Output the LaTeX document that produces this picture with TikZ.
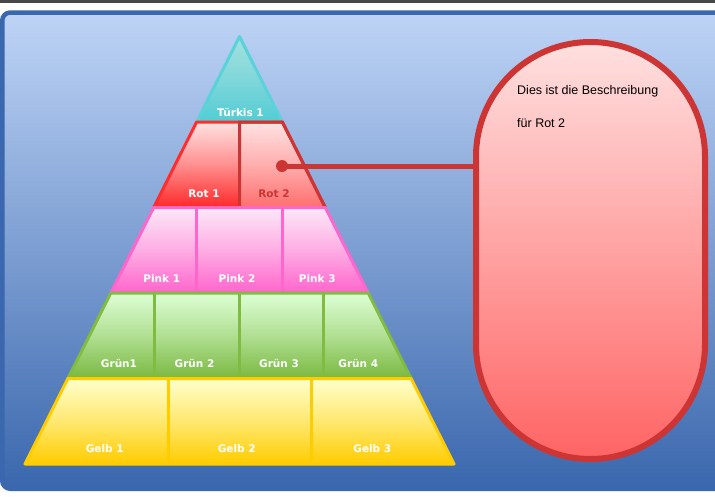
\documentclass[tikz,border=0pt]{standalone}
\usepackage{fontspec}
\setmainfont{Liberation Sans}
\newfontfamily\lblfont{DejaVu Sans}
\usepackage{tikz}
\definecolor{tuerkisA}{RGB}{165,224,222}
\definecolor{tuerkisB}{RGB}{82,204,212}
\definecolor{tuerkisL}{RGB}{90,210,218}
\definecolor{rotA}{RGB}{255,226,226}
\definecolor{rotB}{RGB}{255,40,40}
\definecolor{rotL}{RGB}{255,45,45}
\definecolor{rotzweiB}{RGB}{255,110,110}
\definecolor{rotdark}{RGB}{205,52,52}
\definecolor{pinkA}{RGB}{253,232,248}
\definecolor{pinkB}{RGB}{255,100,204}
\definecolor{pinkL}{RGB}{255,102,204}
\definecolor{gruenA}{RGB}{221,255,213}
\definecolor{gruenB}{RGB}{122,184,64}
\definecolor{gruenL}{RGB}{128,188,64}
\definecolor{gelbA}{RGB}{255,255,204}
\definecolor{gelbB}{RGB}{255,204,0}
\definecolor{gelbL}{RGB}{255,204,0}
\definecolor{panelA}{RGB}{190,212,246}
\definecolor{panelM}{RGB}{150,176,224}
\definecolor{panelB}{RGB}{58,103,173}
\definecolor{descA}{RGB}{255,224,224}
\definecolor{descB}{RGB}{255,100,100}

\begin{document}
\begin{tikzpicture}[x=1pt, y=-1pt,
    lbl/.style={font=\lblfont\bfseries\fontsize{10.5}{12}\selectfont, text=white, anchor=base, inner sep=0pt},
    desctext/.style={font=\fontsize{12.5}{15}\selectfont, anchor=base west, inner sep=0pt}]
    \useasboundingbox (0,0) rectangle (715,496);
    \fill[white] (0,0) rectangle (715,496);
    \fill[black!72] (0,0) rectangle (715,3);

    % Panel
    \draw[panelB, line width=4.5pt, rounded corners=8pt, top color=panelA, middle color=panelM, bottom color=panelB]
        (2.25,12.5) rectangle (730,488.75);

    % Pyramid rows, top to bottom
    \foreach \k/\col/\xs in {1/tuerkis/{}, 2/rot/{239.5}, 3/pink/{196.5,282}, 4/gruen/{154.3,239.3,323.7}, 5/gelb/{168.3,311}} {
        \pgfmathsetmacro\yt{36.5+85.5*(\k-1)}
        \pgfmathsetmacro\yb{36.5+85.5*\k}
        \pgfmathsetmacro\wt{42.9*(\k-1)}
        \pgfmathsetmacro\wb{42.9*\k}
        \shade[top color=\col A, bottom color=\col B, middle color=\col A!55!\col B]
            (239.5-\wt,\yt) -- (239.5+\wt,\yt) -- (239.5+\wb,\yb) -- (239.5-\wb,\yb) -- cycle;
        \ifnum\k=2
            \begin{scope}
                \clip (239.5,\yt) rectangle (400,\yb);
                \shade[top color=rotA, bottom color=rotzweiB, middle color=rotA!55!rotzweiB]
                    (239.5-\wt,\yt) -- (239.5+\wt,\yt) -- (239.5+\wb,\yb) -- (239.5-\wb,\yb) -- cycle;
            \end{scope}
        \fi
        \ifnum\k>1
            \foreach \x in \xs {
                \draw[\col L, line width=3pt] (\x,\yt) -- (\x,\yb);
            }
        \fi
        \draw[\col L, line width=3pt, line join=round]
            (239.5-\wt,\yt) -- (239.5+\wt,\yt) -- (239.5+\wb,\yb) -- (239.5-\wb,\yb) -- cycle;
        \ifnum\k=2
            \draw[rotdark, line width=3pt]
                (239.5,\yb) -- (239.5,\yt) -- (239.5+\wt,\yt) -- (239.5+\wb,\yb);
        \fi
    }

    % Labels
    \foreach \n/\x/\y/\t in {tuerkis1/240.5/116/Türkis 1, rot1/204/197.5/Rot 1,
        pink1/161.7/282.5/Pink 1, pink2/237/282.5/Pink 2, pink3/317.2/282.5/Pink 3,
        gruen1/119/367.5/Grün1, gruen2/194.5/367.5/Grün 2, gruen3/279/367.5/Grün 3, gruen4/358.3/367.5/Grün 4,
        gelb1/104.7/452.5/Gelb 1, gelb2/236.7/452.5/Gelb 2, gelb3/372.3/452.5/Gelb 3} {
        \node[lbl] (\n) at (\x,\y) {\t};
    }
    \node[lbl, text=rotdark] (rot2) at (274,197.5) {Rot 2};

    % Description for Rot 2
    \node[draw=rotdark, line width=6pt, rounded corners=114.5pt, minimum width=229pt, minimum height=417pt,
        inner sep=0pt, top color=descA, bottom color=descB] (desc) at (590.5,250.5) {};
    \node[desctext] (desc1) at (517,94) {Dies ist die Beschreibung};
    \node[desctext] (desc2) at (517,127) {für Rot 2};
    \node[circle, fill=rotdark, minimum size=12pt, inner sep=0pt] (dot) at (282,166) {};
    \draw[rotdark, line width=5pt] (dot.center) -- (dot -| desc.west);
\end{tikzpicture}
\end{document}
